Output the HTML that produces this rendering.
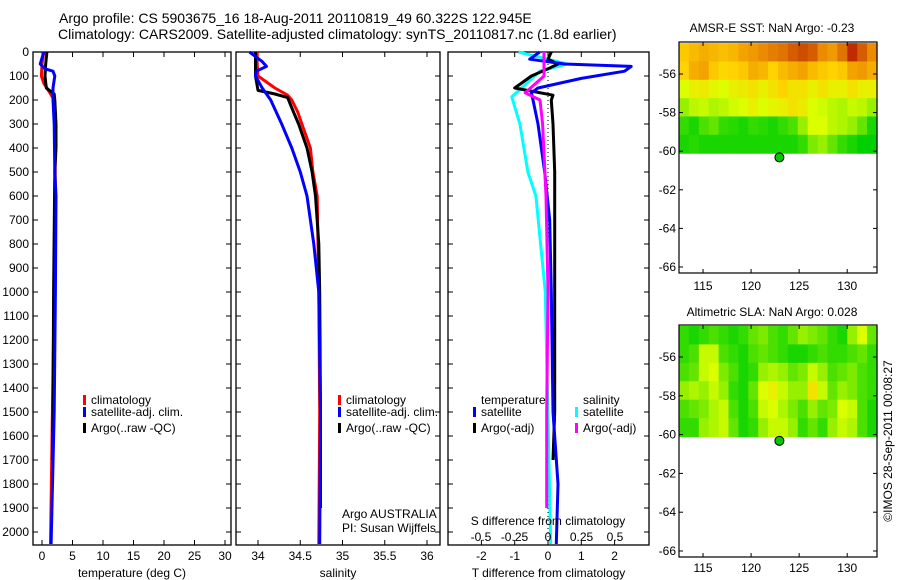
<!DOCTYPE html>
<html><head><meta charset="utf-8"><style>
body{margin:0;background:#fff;}
svg{display:block;font-family:"Liberation Sans",sans-serif;}
text{fill:#000;}
</style></head><body>
<svg id="chart" width="900" height="580" viewBox="0 0 900 580"></svg>
<script>
// ---------- data ----------
const depthTicks=[0,100,200,300,400,500,600,700,800,900,1000,1100,1200,1300,1400,1500,1600,1700,1800,1900,2000];
const tTicks=[0,5,10,15,20,25,30];
const sTicks=[34,34.5,35,35.5,36];
const sTickLabels=["34","34.5","35","35.5","36"];
const dTTicks=[-2,-1,0,1,2];
const dSTicks=[-0.5,-0.25,0,0.25,0.5];
const dSTickLabels=["-0.5","-0.25","0","0.25","0.5"];
const latTicks=[-56,-58,-60,-62,-64,-66];
const lonTicks=[115,120,125,130];

const tClimDepth=[0,50,100,130,170,200,300,600,1000,1500,2050];
const tClimVal=[0.3,0.0,-0.1,0.3,1.3,2.0,2.1,2.2,2.0,1.7,1.4];
const tArgoDepth=[0,50,100,150,175,200,300,400,500,1000,1500,1700];
const tArgoVal=[0.8,0.6,0.5,0.7,2.0,2.1,2.3,2.3,2.1,1.9,1.8,1.7];
const tSatDepth=[0,50,70,80,100,150,200,300,500,600,1000,1500,2050];
const tSatVal=[0.3,-0.3,0.5,1.8,2.1,1.8,1.8,2.0,2.1,2.3,2.2,2.0,1.5];

const sClimDepth=[0,50,100,150,180,200,250,300,400,500,600,800,1000,1500,2050];
const sClimVal=[33.99,33.99,34.0,34.2,34.35,34.4,34.47,34.52,34.62,34.65,34.70,34.71,34.72,34.73,34.72];
const sArgoDepth=[0,100,160,175,190,250,300,400,500,600,800,1000,1500,1900];
const sArgoVal=[33.97,33.97,34.0,34.2,34.35,34.42,34.48,34.58,34.64,34.68,34.72,34.73,34.74,34.74];
const sSatDepth=[0,40,60,80,100,150,200,300,400,500,600,700,800,1000,1500,2050];
const sSatVal=[33.9,34.05,34.1,33.98,33.97,34.05,34.15,34.28,34.4,34.5,34.58,34.62,34.66,34.72,34.74,34.73];

const dTSatDepth=[0,30,50,60,80,110,150,170,200,300,500,700,1000,1500,1800,2050];
const dTSatVal=[-0.25,-0.55,0.5,2.5,2.3,1.0,-0.3,-0.5,-0.45,-0.3,-0.1,0.05,0.1,0.15,0.3,0.25];
const dTArgoDepth=[0,30,50,70,100,150,180,200,300,500,1000,1500,1700];
const dTArgoVal=[0.1,0.0,0.3,0.0,-0.5,-1.0,0.15,0.1,0.15,0.2,0.2,0.2,0.15];
const dSSatDepth=[0,50,80,187,300,500,600,1000,2050];
const dSSatVal=[-0.22,0.14,-0.06,-0.27,-0.21,-0.15,-0.09,-0.02,0.02];
const dSArgoDepth=[0,100,170,200,300,600,1000,1500,1900];
const dSArgoVal=[-0.03,-0.03,-0.17,-0.06,-0.04,-0.015,0.0,-0.01,-0.01];

const sstGrid=[
[0.62,0.65,0.68,0.66,0.64,0.66,0.7,0.72,0.75,0.78,0.8,0.85,0.88,0.85,0.75,0.72,0.8,0.95,0.85,0.75],
[0.6,0.68,0.7,0.62,0.58,0.6,0.62,0.68,0.66,0.6,0.65,0.68,0.7,0.65,0.62,0.6,0.62,0.7,0.72,0.68],
[0.45,0.5,0.52,0.48,0.45,0.5,0.52,0.55,0.5,0.55,0.6,0.55,0.55,0.5,0.55,0.5,0.5,0.55,0.5,0.5],
[0.3,0.38,0.4,0.35,0.38,0.42,0.45,0.5,0.45,0.48,0.5,0.55,0.52,0.45,0.42,0.38,0.35,0.4,0.38,0.3],
[0.1,0.05,0.15,0.2,0.1,0.08,0.05,0.1,0.08,0.05,0.1,0.15,0.3,0.45,0.45,0.38,0.35,0.3,0.2,0.05],
[0.05,0.08,0.05,0.05,0.05,0.05,0.05,0.05,0.05,0.05,0.05,0.05,0.1,0.25,0.3,0.2,0.1,0.05,0.0,0.0]];
const slaGrid=[
[0.1,0.05,0.1,0.15,0.1,0.05,0.1,0.2,0.25,0.15,0.1,0.2,0.3,0.25,0.2,0.1,0.05,0.3,0.45,0.2],
[0.1,0.15,0.4,0.4,0.15,0.1,0.05,0.15,0.2,0.15,0.1,0.05,0.05,0.1,0.15,0.1,0.1,0.15,0.2,0.1],
[0.15,0.2,0.4,0.45,0.25,0.15,0.05,0.1,0.3,0.35,0.3,0.2,0.25,0.4,0.3,0.15,0.2,0.25,0.15,0.1],
[0.3,0.35,0.3,0.4,0.3,0.1,0.05,0.2,0.45,0.5,0.4,0.3,0.3,0.55,0.4,0.2,0.3,0.25,0.15,0.1],
[0.15,0.2,0.25,0.35,0.4,0.15,0.05,0.15,0.4,0.45,0.35,0.25,0.15,0.3,0.2,0.25,0.45,0.4,0.15,0.05],
[0.1,0.1,0.3,0.35,0.4,0.2,0.05,0.1,0.3,0.4,0.4,0.3,0.1,0.2,0.1,0.3,0.4,0.35,0.15,0.05]];
const gridLonRange=[112.5,133.1];
const gridLatRange=[-54.4,-60.1];
const floatLon=122.945, floatLat=-60.322;

// ---------- helpers ----------
const svg=document.getElementById('chart');
const NS='http://www.w3.org/2000/svg';
function mk(tag,attrs,parent){const e=document.createElementNS(NS,tag);for(const k in attrs)e.setAttribute(k,attrs[k]);(parent||svg).appendChild(e);return e;}
function txt(x,y,s,size,anchor,parent){const e=mk('text',{x:x,y:y,'font-size':size,'text-anchor':anchor||'start'},parent);e.textContent=s;return e;}
function lin(d0,d1,r0,r1){return v=>r0+(v-d0)*(r1-r0)/(d1-d0);}

const PT=52,PB=545;
const yD=lin(0,2000,52,532);

function panel(name,x0,x1,xs,xTickVals,xTickLabels,title,showY){
  const g=mk('g',{},svg);
  
  
  mk('rect',{x:x0,y:PT,width:x1-x0,height:PB-PT,fill:'none',stroke:'#000','stroke-width':1.3},g);
  depthTicks.forEach(d=>{const y=yD(d);
    mk('line',{x1:x0,x2:x0+5,y1:y,y2:y,stroke:'#000'},g);
    mk('line',{x1:x1,x2:x1-5,y1:y,y2:y,stroke:'#000'},g);
    if(showY){const t=txt(x0-4,y+4,String(d),12,'end',g);}
  });
  xTickVals.forEach((v,i)=>{const x=xs(v);
    mk('line',{x1:x,x2:x,y1:PT,y2:PT+5,stroke:'#000'},g);
    mk('line',{x1:x,x2:x,y1:PB,y2:PB-5,stroke:'#000'},g);
    if(xTickLabels) txt(x,560,xTickLabels[i],12,'middle',g);
  });
  const t=txt((x0+x1)/2,577,title,12,'middle',g);
  return g;
}
function line(g,xs,depths,vals,color,name,dash){
  const p=mk('polyline',{points:depths.map((d,i)=>xs(vals[i]).toFixed(1)+','+yD(d).toFixed(1)).join(' '),fill:'none',stroke:color,'stroke-width':3,'stroke-linejoin':'round'},g);
  
  
  return p;
}
function legend(g,x,y,color,label,name){
  const r=mk('rect',{x:x,y:y-9,width:3,height:10,fill:color},g);
  
  
  const t=txt(x+8,y,label,12,'start',g);
  
  
}

// title
const t1=txt(59,23,'Argo profile: CS 5903675_16 18-Aug-2011 20110819_49 60.322S 122.945E',14);

const t2=txt(58,39,'Climatology: CARS2009. Satellite-adjusted climatology: synTS_20110817.nc (1.8d earlier)',14);


// panel 1 temperature
const xT=lin(0,30,42,225);
const g1=panel('temperature-panel',33,231,xT,tTicks,tTicks.map(String),'temperature (deg C)',true);
line(g1,xT,tClimDepth,tClimVal,'#f00','temp-climatology-line');
line(g1,xT,tArgoDepth,tArgoVal,'#000','temp-argo-line');
line(g1,xT,tSatDepth,tSatVal,'#00f','temp-satellite-line');
legend(g1,83,404,'#f00','climatology','legend-climatology');
legend(g1,83,416,'#00f','satellite-adj. clim.','legend-satellite');
legend(g1,83,432,'#000','Argo(..raw -QC)','legend-argo');

// panel 2 salinity
const xS=lin(34,36,258,427);
const g2=panel('salinity-panel',236,440,xS,sTicks,sTickLabels,'salinity',false);
line(g2,xS,sClimDepth,sClimVal,'#f00','sal-climatology-line');
line(g2,xS,sArgoDepth,sArgoVal,'#000','sal-argo-line');
line(g2,xS,sSatDepth,sSatVal,'#00f','sal-satellite-line');
legend(g2,338,404,'#f00','climatology','legend-climatology-2');
legend(g2,338,416,'#00f','satellite-adj. clim.','legend-satellite-2');
legend(g2,338,432,'#000','Argo(..raw -QC)','legend-argo-2');
const a1=txt(342,518,'Argo AUSTRALIA',12,'start',g2);
const a2=txt(342,532,'PI: Susan Wijffels',12,'start',g2);

// panel 3 differences
const xdT=lin(0,1,548,581.3);
const xdS=lin(0,0.5,548,615);
const g3=panel('difference-panel',448,649,xdT,dTTicks,dTTicks.map(String),'T difference from climatology',false);
mk('line',{x1:xdT(0),x2:xdT(0),y1:PT,y2:PB,stroke:'#000','stroke-dasharray':'1,3'},g3);
line(g3,xdS,dSSatDepth,dSSatVal,'#0ff','ds-satellite-line');
line(g3,xdT,dTArgoDepth,dTArgoVal,'#000','dt-argo-line');
line(g3,xdT,dTSatDepth,dTSatVal,'#00f','dt-satellite-line');
line(g3,xdS,dSArgoDepth,dSArgoVal,'#f0f','ds-argo-line');
dSTicks.forEach((v,i)=>txt(xdS(v),541,dSTickLabels[i],12,'middle',g3));
txt(548,525,'S difference from climatology',12,'middle',g3);
txt(481,404,'temperature',12,'start',g3);
legend(g3,473,416,'#00f','satellite','legend-dt-satellite');
legend(g3,473,432,'#000','Argo(-adj)','legend-dt-argo');
txt(583,404,'salinity',12,'start',g3);
legend(g3,575,416,'#0ff','satellite','legend-ds-satellite');
legend(g3,575,432,'#f0f','Argo(-adj)','legend-ds-argo');

// ---------- maps ----------
function cmap(v){
  const stops=[[0,[0,208,0]],[0.3,[150,240,0]],[0.45,[220,255,0]],[0.6,[255,210,0]],[0.75,[235,140,0]],[1,[180,20,0]]];
  for(let i=1;i<stops.length;i++){if(v<=stops[i][0]){const a=stops[i-1],b=stops[i],t=(v-a[0])/(b[0]-a[0]);
    return 'rgb('+a[1].map((c,j)=>Math.round(c+(b[1][j]-c)*t)).join(',')+')';}}
  return 'rgb(180,20,0)';
}
function mapPanel(name,grid,top,bottom,latY0,latY1,title,titleY,lonLabelY){
  const g=mk('g',{},svg);
  
  
  const xL=lin(112.5,133.1,679,877);
  const yL=lin(-56,-66,latY0,latY1);
  const rows=grid.length,cols=grid[0].length;
  const gx0=xL(gridLonRange[0]),gx1=xL(gridLonRange[1]);
  const gy0=yL(gridLatRange[0]),gy1=yL(gridLatRange[1]);
  const cw=(gx1-gx0)/cols,ch=(gy1-gy0)/rows;
  grid.forEach((row,r)=>row.forEach((v,c)=>{
    const cell=mk('rect',{x:(gx0+c*cw).toFixed(2),y:(gy0+r*ch).toFixed(2),width:(cw+0.6).toFixed(2),height:(ch+0.6).toFixed(2),fill:cmap(v)},g);
    
    
  }));
  mk('rect',{x:679,y:top,width:198,height:bottom-top,fill:'none',stroke:'#000','stroke-width':1.2},g);
  latTicks.forEach(l=>{const y=yL(l);
    mk('line',{x1:679,x2:683,y1:y,y2:y,stroke:'#000'},g);
    mk('line',{x1:877,x2:873,y1:y,y2:y,stroke:'#000'},g);
    txt(676,y+4,String(l),12,'end',g);});
  lonTicks.forEach(l=>{const x=xL(l);
    mk('line',{x1:x,x2:x,y1:top,y2:top+4,stroke:'#000'},g);
    mk('line',{x1:x,x2:x,y1:bottom,y2:bottom-4,stroke:'#000'},g);
    txt(x,lonLabelY,String(l),12,'middle',g);});
  const dot=mk('circle',{cx:xL(floatLon),cy:yL(floatLat),r:4.5,fill:'#00c800',stroke:'#000','stroke-width':1},g);
  
  
  txt(772,titleY,title,12,'middle',g);
}
mapPanel('sst-map',sstGrid,42,273,74,267,'AMSR-E SST: NaN Argo: -0.23',32,290);
mapPanel('sla-map',slaGrid,325,557,357,551,'Altimetric SLA: NaN Argo: 0.028',316,572);

const cr=txt(0,0,'©IMOS 28-Sep-2011 00:08:27',12,'middle');
cr.setAttribute('transform','translate(892,441) rotate(-90)');


</script>
</body></html>
